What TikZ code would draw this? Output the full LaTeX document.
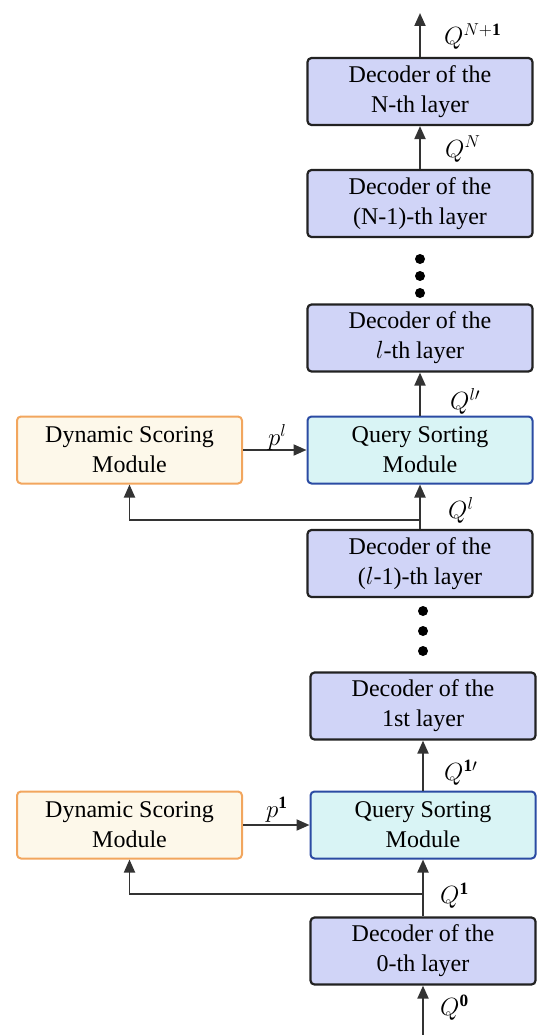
\documentclass[tikz,border=0pt]{standalone}
\usepackage{fontspec}
\setmainfont{Liberation Serif}
\usetikzlibrary{arrows.meta}
\definecolor{decfill}{HTML}{D0D4F7}
\definecolor{decline}{HTML}{222222}
\definecolor{qsmfill}{HTML}{D9F4F5}
\definecolor{qsmline}{HTML}{2B4BA3}
\definecolor{dsmfill}{HTML}{FDF8EA}
\definecolor{dsmline}{HTML}{F2A65E}
\definecolor{arrcol}{HTML}{333333}
\begin{document}
\begin{tikzpicture}[x=1pt,y=-1pt,
  base/.style={rounded corners=4pt, minimum width=225pt, minimum height=67pt, align=center, font=\fontsize{24}{30}\selectfont, inner sep=0pt},
  dec/.style={base, draw=decline, fill=decfill, line width=2.2pt},
  qsm/.style={base, draw=qsmline, fill=qsmfill, line width=2pt},
  dsm/.style={base, draw=dsmline, fill=dsmfill, line width=2pt},
  arr/.style={draw=arrcol, line width=2pt, -{Triangle[length=13pt,width=11pt]}},
  fb/.style={draw=arrcol, line width=1.8pt, -{Triangle[length=13pt,width=11pt]}},
  lab/.style={font=\fontsize{20.74}{25}\selectfont, anchor=west, inner sep=0pt, scale=1.2},
  dotn/.style={circle, fill=black, minimum size=10pt, inner sep=0pt}]
\useasboundingbox (0,0) rectangle (550,1035);
% nodes
\node[dec] (dN) at (420,91.5) {Decoder of the\\N-th layer};
\node[dec] (dN1) at (420,203.5) {Decoder of the\\(N-1)-th layer};
\node[dotn] (d1a) at (420,259) {};
\node[dotn] (d1b) at (420,276) {};
\node[dotn] (d1c) at (420,293) {};
\node[dec] (dl) at (420,338) {Decoder of the\\$l$-th layer};
\node[qsm] (qsml) at (420,450) {Query Sorting\\Module};
\node[dsm] (dsml) at (129.5,450) {Dynamic Scoring\\Module};
\node[dec] (dl1) at (420,563.5) {Decoder of the\\($l$-1)-th layer};
\node[dotn] (d2a) at (423,611) {};
\node[dotn] (d2b) at (423,631) {};
\node[dotn] (d2c) at (423,651) {};
\node[dec] (d1) at (423,706) {Decoder of the\\1st layer};
\node[qsm] (qsm1) at (423,825) {Query Sorting\\Module};
\node[dsm] (dsm1) at (129.5,825) {Dynamic Scoring\\Module};
\node[dec] (d0) at (423,951) {Decoder of the\\0-th layer};
% coordinates
\coordinate (top) at (420,13);
\coordinate (fbl) at (420,520);
\coordinate (fb1) at (423,894);
\coordinate (bot) at (423,1035);
% connectors
\draw[arr] (dN.north) -- (top);
\draw[arr] (dN1.north) -- (dN.south);
\draw[arr] (qsml.north) -- (dl.south);
\draw[arr] (dl1.north) -- (qsml.south);
\draw[fb] (fbl) -| (dsml.south);
\draw[arr] (dsml.east) -- (qsml.west);
\draw[arr] (qsm1.north) -- (d1.south);
\draw[arr] (d0.north) -- (qsm1.south);
\draw[fb] (fb1) -| (dsm1.south);
\draw[arr] (dsm1.east) -- (qsm1.west);
\draw[arr] (bot) -- (d0.south);
% labels
\node[lab] (lNp) at (444,37) {$Q^{N+\mathbf{1}}$};
\node[lab] (lN) at (445,149) {$Q^{N}$};
\node[lab] (llp) at (450,401) {$Q^{l\prime}$};
\node[lab] (pl) at (268,437) {$p^{l}$};
\node[lab] (ll) at (448,510) {$Q^{l}$};
\node[lab] (l1p) at (444,773) {$Q^{\mathbf{1}\prime}$};
\node[lab] (p1) at (266,810) {$p^{\mathbf{1}}$};
\node[lab] (l1) at (440,896) {$Q^{\mathbf{1}}$};
\node[lab] (l0) at (440,1008) {$Q^{\mathbf{0}}$};
\end{tikzpicture}
\end{document}
